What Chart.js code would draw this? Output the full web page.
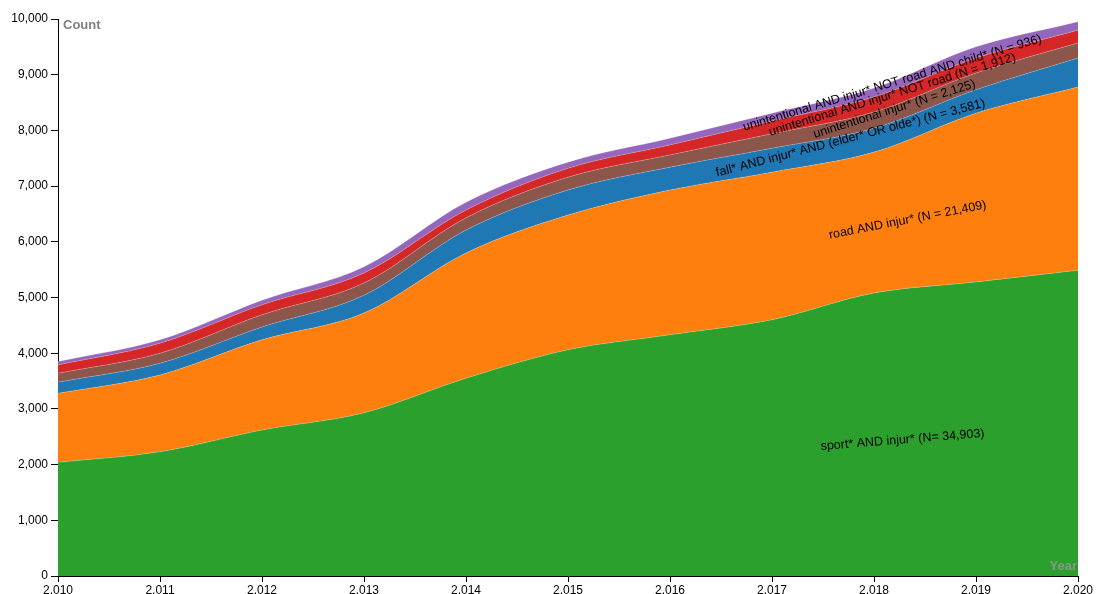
<!DOCTYPE html>
<html>
<head>
<meta charset="utf-8">
<script src="https://cdn.jsdelivr.net/npm/chart.js@4"></script>
<style>
  html,body{margin:0;padding:0;background:#fff;}
  canvas{display:block;}
</style>
</head>
<body>
<canvas id="chart" width="1096" height="594"></canvas>
<script>
// Data (stacked, bottom to top)
const years = [2010,2011,2012,2013,2014,2015,2016,2017,2018,2019,2020];
const sport   = [2040,2230,2620,2930,3550,4060,4330,4600,5080,5280,5490];
const road    = [1240,1380,1620,1790,2250,2420,2600,2650,2530,3030,3290];
const fall    = [200,210,230,320,410,450,410,430,430,420,520];
const unint   = [160,180,220,220,220,230,220,260,290,300,270];
const unintNotRoad = [150,180,180,180,140,160,180,230,270,270,230];
const unintChild   = [60,60,80,110,140,110,120,140,160,200,150];
const seriesNames = [
  "sport* AND injur* (N= 34,903)",
  "road AND injur* (N = 21,409)",
  "fall* AND injur* AND (elder* OR olde*) (N = 3,581)",
  "unintentional injur* (N = 2,125)",
  "unintentional AND injur* NOT road (N = 1,912)",
  "unintentional AND injur* NOT road AND child* (N = 936)"
];
const yTicks = [0,1000,2000,3000,4000,5000,6000,7000,8000,9000,10000];

const colors = ["#2ca02c","#ff7f0e","#1f77b4","#8c564b","#d62728","#9467bd"];
const allSeries = [sport, road, fall, unint, unintNotRoad, unintChild];

// label anchors in data coords (year, value) + rotation
const labelPos = [
  {x:2018.28, y:2442, rot:-4.6},
  {x:2018.33, y:6390, rot:-11},
  {x:2017.77, y:7860, rot:-14.6},
  {x:2018.2,  y:8380, rot:-17.5},
  {x:2018.18, y:8640, rot:-17},
  {x:2018.18, y:8850, rot:-16.6}
];

const fmt = v => Number(v).toLocaleString("en-US");
const FONT = "'Liberation Sans', Arial, sans-serif";

const labelPlugin = {
  id:"labels",
  afterDatasetsDraw(chart){
    const ctx = chart.ctx, xs = chart.scales.x, ys = chart.scales.y, a = chart.chartArea;
    ctx.save();
    ctx.font = "12.5px " + FONT;
    ctx.fillStyle = "#000";
    ctx.textAlign = "center";
    ctx.textBaseline = "middle";
    labelPos.forEach((p,i)=>{
      ctx.save();
      ctx.translate(xs.getPixelForValue(p.x), ys.getPixelForValue(p.y));
      ctx.rotate(p.rot*Math.PI/180);
      ctx.fillText(seriesNames[i],0,0);
      ctx.restore();
    });
    // axis titles
    ctx.font = "bold 13px " + FONT;
    ctx.fillStyle = "#808080";
    ctx.textAlign = "left";
    ctx.textBaseline = "top";
    ctx.fillText("Count", a.left+5, a.top);
    ctx.fillStyle = "rgba(150,150,150,0.85)";
    ctx.textAlign = "right";
    ctx.textBaseline = "bottom";
    ctx.fillText("Year", a.right-1, a.bottom-3);
    ctx.restore();
  }
};

new Chart(document.getElementById("chart"),{
  type:"line",
  data:{
    datasets: allSeries.map((s,i)=>({
      label:seriesNames[i],
      data:years.map((y,j)=>({x:y,y:s[j]})),
      backgroundColor:colors[i],
      borderColor:"rgba(255,255,255,0.35)",
      borderWidth:0.6,
      pointRadius:0,
      fill: i===0 ? "origin" : "-1",
      cubicInterpolationMode:"monotone"
    }))
  },
  options:{
    responsive:false,
    animation:false,
    layout:{padding:{top:19,right:18,left:0,bottom:0}},
    plugins:{legend:{display:false},tooltip:{enabled:false}},
    scales:{
      x:{
        type:"linear",min:2010,max:2020,
        afterFit: s => { s.height = 18; },
        border:{color:"#000",width:1},
        grid:{drawOnChartArea:false,drawTicks:true,tickLength:6,color:"#000"},
        ticks:{stepSize:1,autoSkip:false,maxRotation:0,padding:1,color:"#000",
          font:{size:12,family:FONT},
          callback:v=>fmt(v)}
      },
      y:{
        stacked:true,min:0,max:10000,
        afterFit: s => { s.width = 58; },
        afterBuildTicks: s => { s.ticks = yTicks.map(v=>({value:v})); },
        border:{color:"#000",width:1},
        grid:{drawOnChartArea:false,drawTicks:true,tickLength:7,color:"#000"},
        ticks:{padding:3,color:"#000",
          font:{size:12,family:FONT},
          callback:v=>fmt(v)}
      }
    }
  },
  plugins:[labelPlugin]
});
</script>
</body>
</html>
